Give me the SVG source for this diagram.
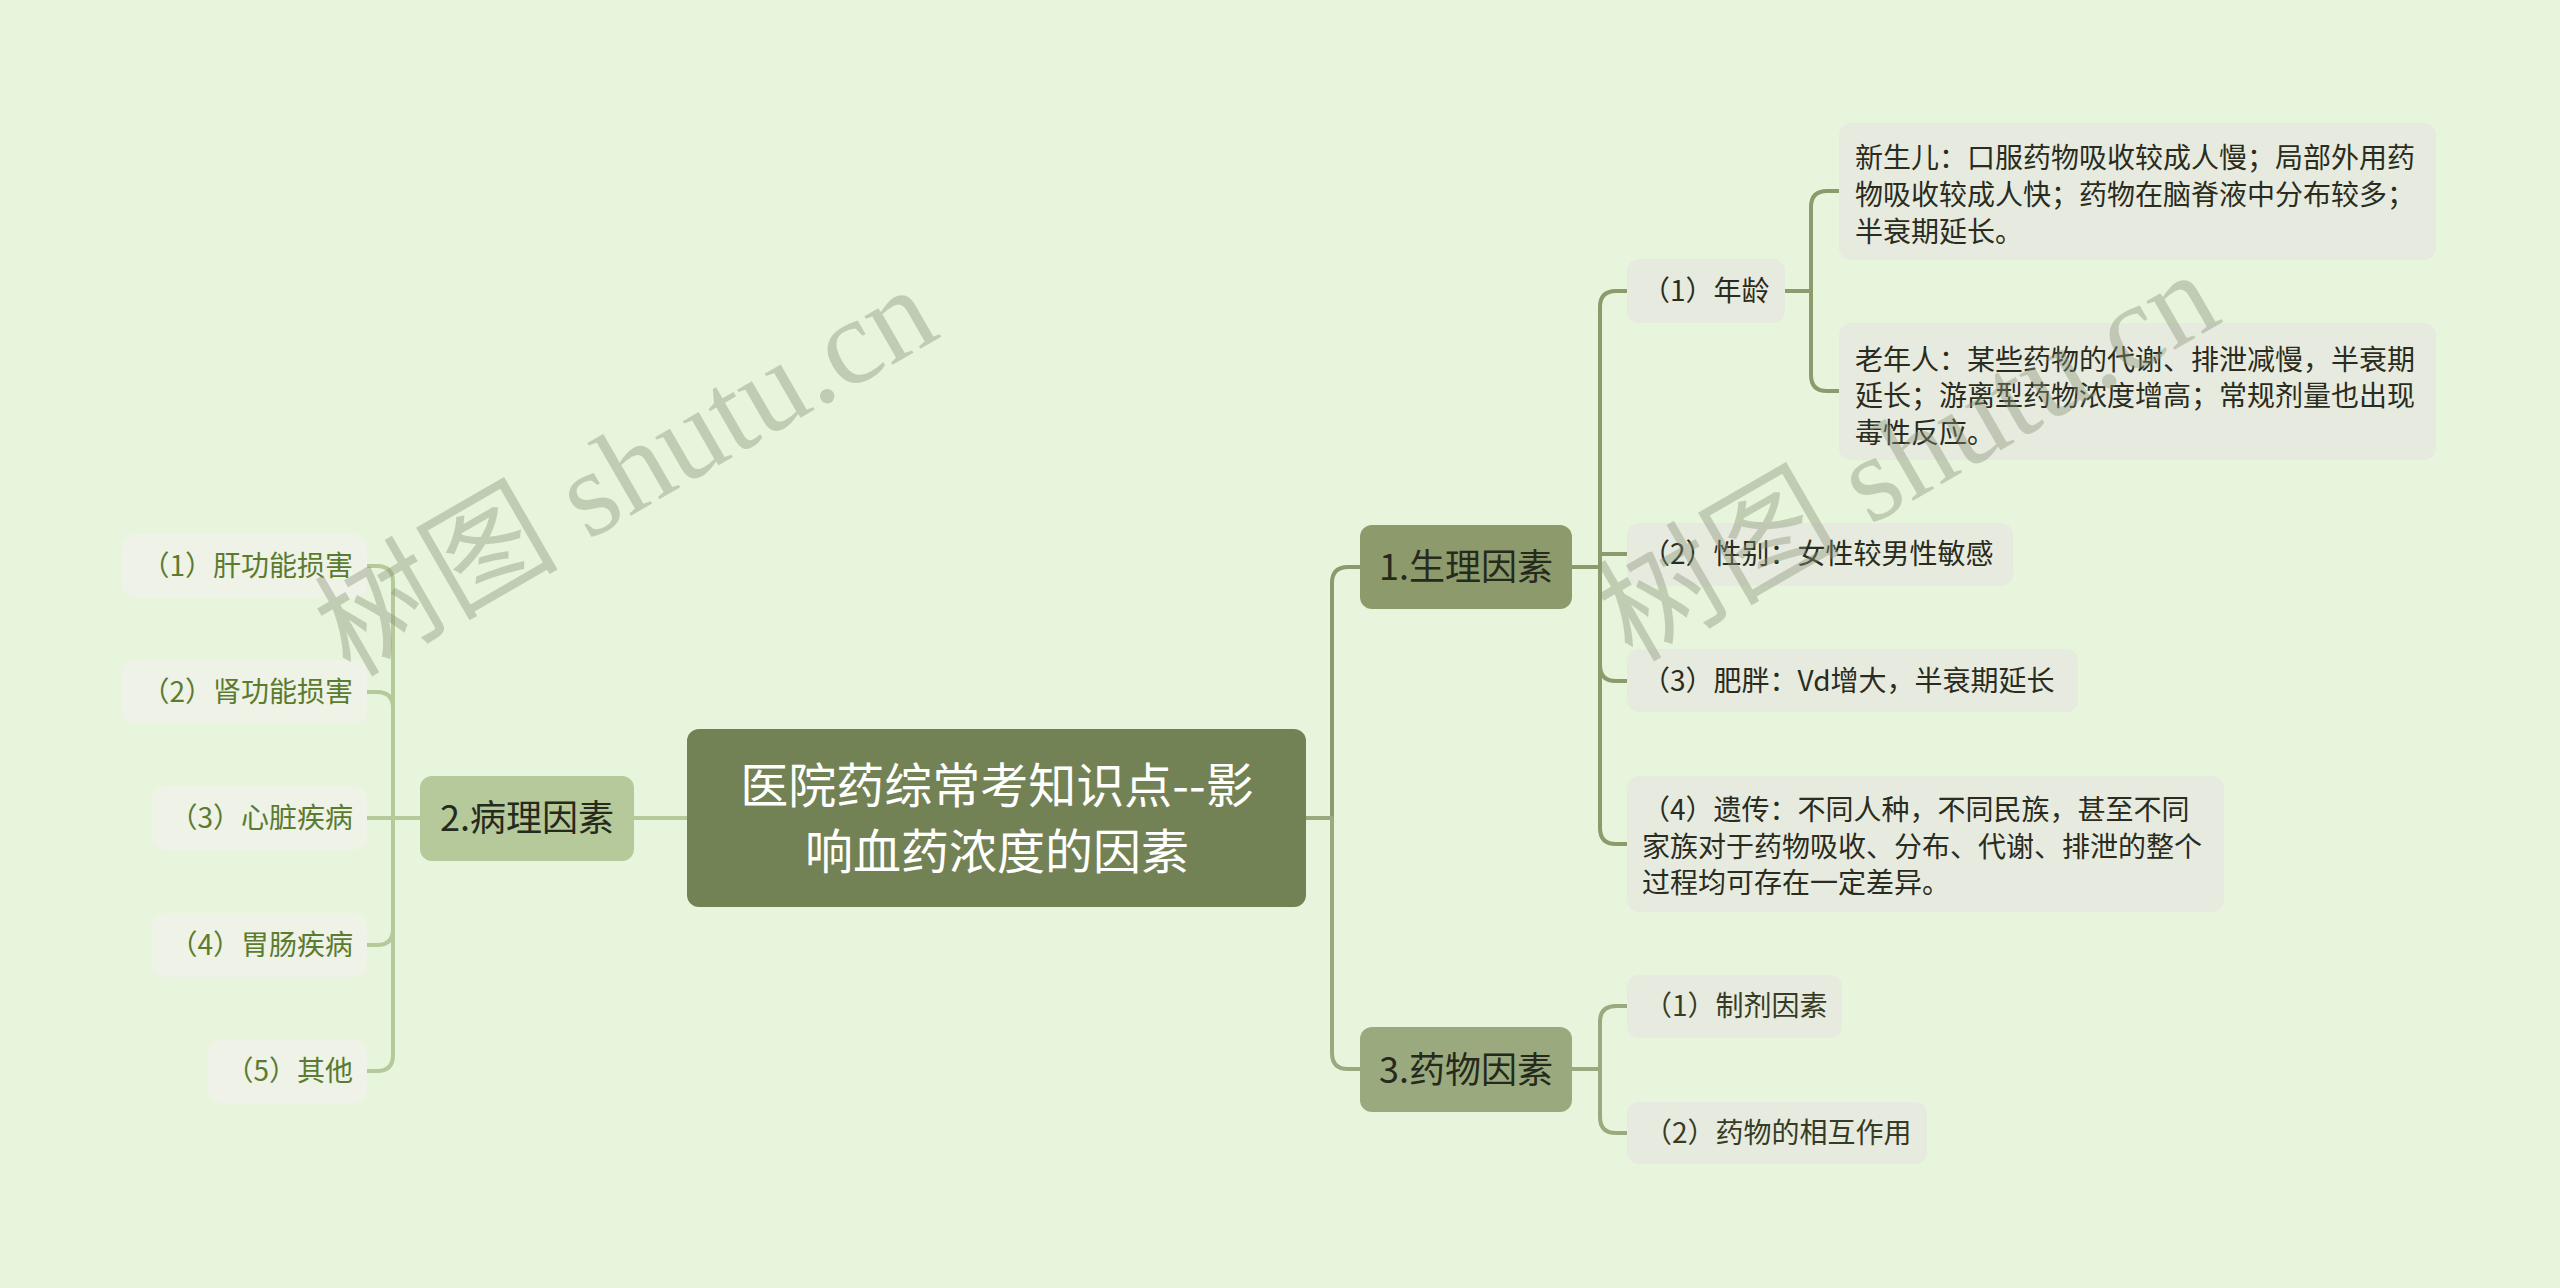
<svg xmlns="http://www.w3.org/2000/svg" width="2560" height="1288" viewBox="0 0 2560 1288">
<style>
text{font-family:"Noto Sans CJK SC","Noto Sans",sans-serif}
.c{fill:none;stroke-width:4;stroke-linejoin:round;stroke-linecap:round}
.c1{stroke:#8c9a6c}.c2{stroke:#b5c99a}.c3{stroke:#9aaa7e}
.root{fill:#738254}
.n1{fill:#8c9a6c}.n2{fill:#b5c99a}.n3{fill:#9aaa7e}
.lr{fill:#e7eadf}.ll{fill:#eef2e7}
.tr{font-size:48px;fill:#ffffff}
.tn{font-size:36px;fill:#262a1c}
.t{font-size:28px;fill:#2a2c20}
.tl{font-size:28px;fill:#5b7b30}
.t3{font-size:28px;fill:#363c24}
.wm{font-family:"Liberation Serif","Noto Sans CJK SC",serif;font-size:122px;fill:#8a9478;opacity:0.4}
</style>
<rect width="2560" height="1288" fill="#e7f5dc"/>
<g id="connectors">
<path class="c c1" d="M1306,818 H1332 V583 Q1332,567 1348,567 H1360"/>
<path class="c c3" d="M1306,818 H1332 V1053 Q1332,1069 1348,1069 H1360"/>
<path class="c c2" d="M687,818 H634"/>
<path class="c c1" d="M1572,567 H1600 V307 Q1600,291 1616,291 H1627"/>
<path class="c c1" d="M1600,567 V554 H1627"/>
<path class="c c1" d="M1600,567 V665 Q1600,681 1616,681 H1627"/>
<path class="c c1" d="M1600,567 V828 Q1600,844 1616,844 H1627"/>
<path class="c c1" d="M1785,291 H1811 V207 Q1811,191 1827,191 H1839"/>
<path class="c c1" d="M1811,291 V375 Q1811,391 1827,391 H1839"/>
<path class="c c3" d="M1572,1069 H1600 V1022 Q1600,1006 1616,1006 H1627"/>
<path class="c c3" d="M1600,1069 V1117 Q1600,1133 1616,1133 H1627"/>
<path class="c c2" d="M420,818 H393 V582 Q393,566 377,566 H367"/>
<path class="c c2" d="M393,818 V708 Q393,692 377,692 H367"/>
<path class="c c2" d="M393,818 H367"/>
<path class="c c2" d="M393,818 V929 Q393,945 377,945 H367"/>
<path class="c c2" d="M393,818 V1055 Q393,1071 377,1071 H367"/>
</g>
<g id="root">
<rect class="root" x="687" y="729" width="619" height="178" rx="12"/>
<text class="tr" x="997" y="803" text-anchor="middle">医院药综常考知识点--影</text>
<text class="tr" x="997" y="869" text-anchor="middle">响血药浓度的因素</text>
</g>
<g id="node1">
<rect class="n1" x="1360" y="525" width="212" height="84" rx="12"/>
<text class="tn" x="1466" y="580" text-anchor="middle">1.生理因素</text>
</g>
<g id="node2">
<rect class="n2" x="420" y="776" width="214" height="85" rx="12"/>
<text class="tn" x="527" y="831" text-anchor="middle">2.病理因素</text>
</g>
<g id="node3">
<rect class="n3" x="1360" y="1027" width="212" height="85" rx="12"/>
<text class="tn" x="1466" y="1083" text-anchor="middle">3.药物因素</text>
</g>
<g id="n1-1">
<rect class="lr" x="1627" y="259" width="158" height="64" rx="12"/>
<text class="t" x="1642" y="301">（1）年龄</text>
</g>
<g id="n1-1-1">
<rect class="lr" x="1839" y="123" width="597" height="137" rx="12"/>
<text class="t" x="1855" y="168">新生儿：口服药物吸收较成人慢；局部外用药</text>
<text class="t" x="1855" y="205">物吸收较成人快；药物在脑脊液中分布较多；</text>
<text class="t" x="1855" y="242">半衰期延长。</text>
</g>
<g id="n1-1-2">
<rect class="lr" x="1839" y="323" width="597" height="137" rx="12"/>
<text class="t" x="1855" y="370">老年人：某些药物的代谢、排泄减慢，半衰期</text>
<text class="t" x="1855" y="406">延长；游离型药物浓度增高；常规剂量也出现</text>
<text class="t" x="1855" y="443">毒性反应。</text>
</g>
<g id="n1-2">
<rect class="lr" x="1627" y="523" width="386" height="63" rx="12"/>
<text class="t" x="1642" y="564">（2）性别：女性较男性敏感</text>
</g>
<g id="n1-3">
<rect class="lr" x="1627" y="649" width="451" height="63" rx="12"/>
<text class="t" x="1642" y="691">（3）肥胖：Vd增大，半衰期延长</text>
</g>
<g id="n1-4">
<rect class="lr" x="1627" y="776" width="597" height="136" rx="12"/>
<text class="t" x="1642" y="820">（4）遗传：不同人种，不同民族，甚至不同</text>
<text class="t" x="1642" y="857">家族对于药物吸收、分布、代谢、排泄的整个</text>
<text class="t" x="1642" y="893">过程均可存在一定差异。</text>
</g>
<g id="n3-1">
<rect class="lr" x="1627" y="975" width="215" height="63" rx="12"/>
<text class="t3" x="1644" y="1016">（1）制剂因素</text>
</g>
<g id="n3-2">
<rect class="lr" x="1627" y="1102" width="300" height="62" rx="12"/>
<text class="t3" x="1644" y="1143">（2）药物的相互作用</text>
</g>
<g id="n2-1">
<rect class="ll" x="122" y="534" width="245" height="64" rx="12"/>
<text class="tl" x="353" y="576" text-anchor="end">（1）肝功能损害</text>
</g>
<g id="n2-2">
<rect class="ll" x="122" y="660" width="245" height="64" rx="12"/>
<text class="tl" x="353" y="702" text-anchor="end">（2）肾功能损害</text>
</g>
<g id="n2-3">
<rect class="ll" x="152" y="786" width="215" height="64" rx="12"/>
<text class="tl" x="353" y="828" text-anchor="end">（3）心脏疾病</text>
</g>
<g id="n2-4">
<rect class="ll" x="152" y="913" width="215" height="64" rx="12"/>
<text class="tl" x="353" y="955" text-anchor="end">（4）胃肠疾病</text>
</g>
<g id="n2-5">
<rect class="ll" x="208" y="1039" width="159" height="64" rx="12"/>
<text class="tl" x="353" y="1081" text-anchor="end">（5）其他</text>
</g>
<g id="watermarks">
<text class="wm" x="350" y="678" transform="rotate(-30 350 678)">树图 shutu.cn</text>
<text class="wm" x="1632" y="663" transform="rotate(-30 1632 663)">树图 shutu.cn</text>
</g>
</svg>
